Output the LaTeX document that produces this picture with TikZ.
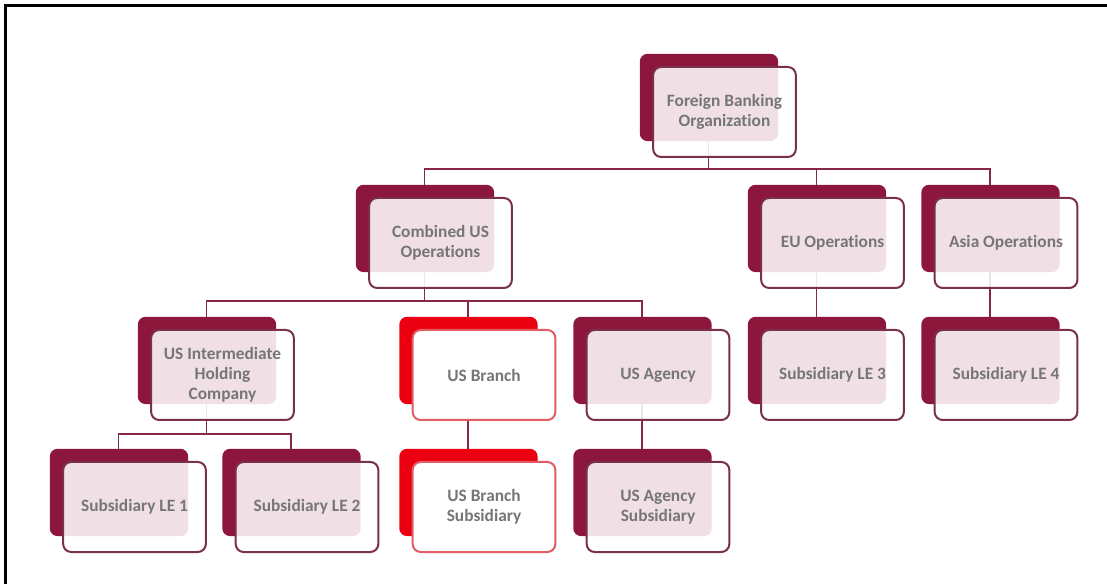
\documentclass[tikz,border=0pt]{standalone}
\usepackage{fontspec}
\setsansfont{Carlito}[Ligatures=NoCommon]
\usepackage{tikz}
\usetikzlibrary{shadows,backgrounds}
\definecolor{wine}{RGB}{140,22,60}
\definecolor{wineline}{RGB}{122,48,74}
\definecolor{winelink}{RGB}{135,40,70}
\definecolor{branchred}{RGB}{235,0,18}
\definecolor{branchline}{RGB}{226,92,100}
\definecolor{labelgray}{RGB}{118,118,118}
\tikzset{
  unit/.style={draw=wineline, line width=1.5pt, rounded corners=6pt,
    fill=white, fill opacity=0.87, text opacity=1, text=labelgray,
    minimum width=107pt, minimum height=67.5pt, align=center,
    font=\sffamily\bfseries\fontsize{13}{15}\selectfont,
    general shadow={fill=#1, draw=none, fill opacity=1, shadow scale=0.97,
      shadow xshift=-12pt, shadow yshift=11.25pt}},
  unit/.default=wine,
  branchunit/.style={unit=branchred, draw=branchline, fill opacity=1},
  link/.style={draw=winelink, line width=1.4pt}
}

\begin{document}
\begin{tikzpicture}[x=0.75pt,y=-0.75pt]
    \useasboundingbox (0,0) rectangle (1107,584);
    % frame
    \draw[line width=2.25pt] (5.5,584) -- (5.5,6) -- (1107,6);
    % top level
    \node[unit] (fbo) at (724.5,112) {Foreign Banking\\Organization};
    % regions
    \node[unit] (cus) at (440.5,243) {Combined US\\Operations};
    \node[unit] (eu) at (832.5,243) {EU Operations};
    \node[unit] (asia) at (1006,243) {Asia Operations};
    % US entities
    \node[unit] (ihc) at (222.5,375) {US Intermediate\\Holding\\Company};
    \node[branchunit] (branch) at (484,375) {US Branch};
    \node[unit] (agency) at (658,375) {US Agency};
    \node[unit] (le3) at (832.5,375) {Subsidiary LE 3};
    \node[unit] (le4) at (1006,375) {Subsidiary LE 4};
    % subsidiaries
    \node[unit] (le1) at (134.5,507) {Subsidiary LE 1};
    \node[unit] (le2) at (307,507) {Subsidiary LE 2};
    \node[branchunit] (branchsub) at (484,507) {US Branch\\Subsidiary};
    \node[unit] (agencysub) at (658,507) {US Agency\\Subsidiary};
    % links, behind the boxes
    \begin{scope}[on background layer]
        \draw[link] ([xshift=-12pt]fbo.center) -- ([shift={(-12pt,-8.5pt)}]fbo.south) -| ([xshift=-12pt]cus.center);
        \draw[link] ([xshift=-12pt]fbo.center) -- ([shift={(-12pt,-8.5pt)}]fbo.south) -| ([xshift=-12pt]eu.center);
        \draw[link] ([xshift=-12pt]fbo.center) -- ([shift={(-12pt,-8.5pt)}]fbo.south) -| ([xshift=-12pt]asia.center);
        \draw[link] ([xshift=-12pt]cus.center) -- ([shift={(-12pt,-9pt)}]cus.south) -| ([xshift=-12pt]ihc.center);
        \draw[link] ([xshift=-12pt]cus.center) -- ([shift={(-12pt,-9pt)}]cus.south) -| ([xshift=-12pt]branch.center);
        \draw[link] ([xshift=-12pt]cus.center) -- ([shift={(-12pt,-9pt)}]cus.south) -| ([xshift=-12pt]agency.center);
        \draw[link] ([xshift=-12pt]ihc.center) -- ([shift={(-12pt,-9.5pt)}]ihc.south) -| ([xshift=-12pt]le1.center);
        \draw[link] ([xshift=-12pt]ihc.center) -- ([shift={(-12pt,-9.5pt)}]ihc.south) -| ([xshift=-12pt]le2.center);
        \draw[link] ([xshift=-12pt]branch.center) -- ([xshift=-12pt]branchsub.center);
        \draw[link] ([xshift=-12pt]agency.center) -- ([xshift=-12pt]agencysub.center);
        \draw[link] ([xshift=-12pt]eu.center) -- ([xshift=-12pt]le3.center);
        \draw[link] ([xshift=-12pt]asia.center) -- ([xshift=-12pt]le4.center);
    \end{scope}
\end{tikzpicture}
\end{document}
